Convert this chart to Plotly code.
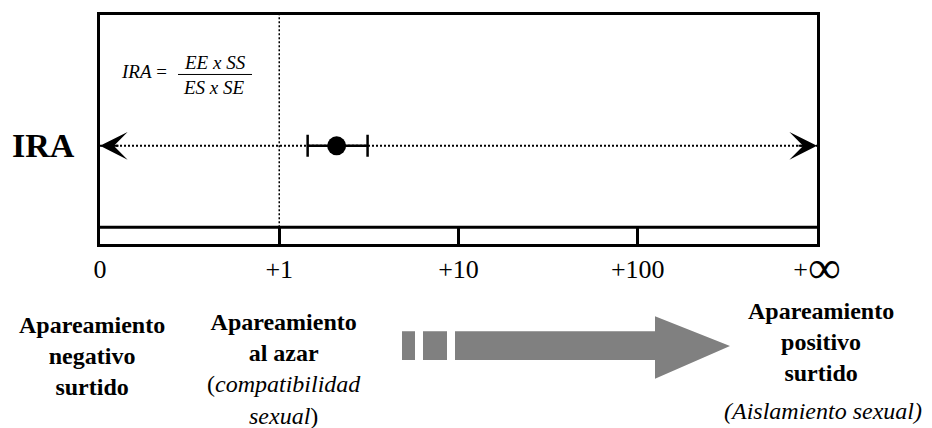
import plotly.graph_objects as go

# ---------------- data ----------------
tick_values = [0.1, 1, 10, 100, 1000]          # 0 and +inf placed at the ends of the log scale
tick_labels = ["0", "+1", "+10", "+100",
               "+<span style='font-size:46px;baseline-shift:-5px'>∞</span>"]
ira_value = [2.09]
ira_low = [1.44]
ira_high = [3.11]
random_mating = [1, 1]
row_label = "IRA"
formula_left = "<i>IRA</i> = "
formula_num = "<i>EE x SS</i>"
formula_den = "<i>ES x SE</i>"
label_negative = "<b>Apareamiento</b><br><b>negativo</b><br><b>surtido</b>"
label_random = "<b>Apareamiento</b><br><b>al azar</b><br>(<i>compatibilidad</i><br><i>sexual</i>)"
label_positive = "<b>Apareamiento</b><br><b>positivo</b><br><b>surtido</b>"
label_isolation = "<i>(Aislamiento sexual)</i>"

# ---------------- layout geometry ----------------
FIG_W, FIG_H = 932, 428
L, R, T, B = 100, 115, 13, 184
PW = FIG_W - L - R
PH = FIG_H - T - B
PLOT_BOTTOM = FIG_H - B


def xp(px):
    return (px - L) / PW


def yp(py):
    return (PLOT_BOTTOM - py) / PH


def yd(py):
    return PLOT_BOTTOM - py


FONT = "Liberation Serif, Times New Roman, serif"
BAR_TOP = yd(227)
ROW_Y = yd(145)

fig = go.Figure()

# vertical dotted line at random mating (+1)
fig.add_trace(go.Scatter(x=random_mating, y=[BAR_TOP, PH], mode="lines",
                         line=dict(color="black", width=1.5, dash="2px,2px"),
                         hoverinfo="skip", showlegend=False))
# horizontal dotted line
fig.add_trace(go.Scatter(x=[tick_values[0], tick_values[-1]], y=[ROW_Y, ROW_Y], mode="lines",
                         line=dict(color="black", width=2, dash="2px,2px"),
                         hoverinfo="skip", showlegend=False))
# IRA estimate with interval
fig.add_trace(go.Scatter(
    x=ira_value, y=[ROW_Y], mode="markers",
    marker=dict(color="black", size=19),
    error_x=dict(type="data", symmetric=False,
                 array=[h - v for h, v in zip(ira_high, ira_value)],
                 arrayminus=[v - l for v, l in zip(ira_value, ira_low)],
                 color="black", thickness=2.5, width=11),
    showlegend=False))

shapes = []
# bar separator line
shapes.append(dict(type="line", xref="paper", yref="y", x0=0, x1=1, y0=BAR_TOP, y1=BAR_TOP,
                   line=dict(color="black", width=3)))
# fraction line
shapes.append(dict(type="line", xref="paper", yref="paper", x0=xp(178), x1=xp(252),
                   y0=yp(73), y1=yp(73), line=dict(color="black", width=1)))
# grey arrow
GREY = "#808080"
for x0, x1 in [(402, 415), (423, 447)]:
    shapes.append(dict(type="rect", xref="paper", yref="paper", x0=xp(x0), x1=xp(x1),
                       y0=yp(361), y1=yp(332), fillcolor=GREY, line=dict(width=0)))
path = "M {} {} L {} {} L {} {} L {} {} L {} {} L {} {} L {} {} Z".format(
    xp(455), yp(332), xp(655), yp(332), xp(655), yp(317), xp(730), yp(347),
    xp(655), yp(380), xp(655), yp(361), xp(455), yp(361))
shapes.append(dict(type="path", xref="paper", yref="paper", path=path,
                   fillcolor=GREY, line=dict(width=0)))

annotations = []
# arrow heads of the dotted line
annotations.append(dict(x=-1, y=ROW_Y, xref="x", yref="y", ax=20, ay=0, text="",
                        showarrow=True, arrowhead=3, arrowsize=2.3, arrowwidth=2, arrowcolor="black"))
annotations.append(dict(x=3, y=ROW_Y, xref="x", yref="y", ax=-20, ay=0, text="",
                        showarrow=True, arrowhead=3, arrowsize=2.3, arrowwidth=2, arrowcolor="black"))


def txt(text, x, y, size, xanchor="center"):
    annotations.append(dict(text=text, x=xp(x), y=yp(y), xref="paper", yref="paper",
                            showarrow=False, xanchor=xanchor, yanchor="middle", align="center",
                            font=dict(family=FONT, size=size, color="black")))


txt("<b>" + row_label + "</b>", 43, 145, 34)
txt(formula_left, 146, 70, 19)
txt(formula_num, 215, 61, 19)
txt(formula_den, 214, 86, 19)
txt(label_negative, 92, 357, 24)
txt(label_random, 284, 370, 24)
txt(label_positive, 821, 343, 24)
txt(label_isolation, 823, 412, 24)

fig.update_layout(
    width=FIG_W, height=FIG_H,
    margin=dict(l=L, r=R, t=T, b=B),
    paper_bgcolor="white", plot_bgcolor="white",
    showlegend=False,
    shapes=shapes, annotations=annotations,
    xaxis=dict(type="log", range=[-1, 3], showgrid=False, zeroline=False,
               showline=True, mirror=True, linecolor="black", linewidth=3,
               ticks="inside", ticklen=18, tickwidth=3, tickcolor="black",
               tickvals=tick_values, ticktext=tick_labels,
               tickfont=dict(family=FONT, size=26, color="black")),
    yaxis=dict(range=[0, PH], showgrid=False, zeroline=False,
               showline=True, mirror=True, linecolor="black", linewidth=3,
               showticklabels=False, ticks=""),
)

fig.write_html("out.html", config={"responsive": False, "displayModeBar": False},
               post_script="document.body.style.margin='0px';document.body.style.overflow='hidden';")
